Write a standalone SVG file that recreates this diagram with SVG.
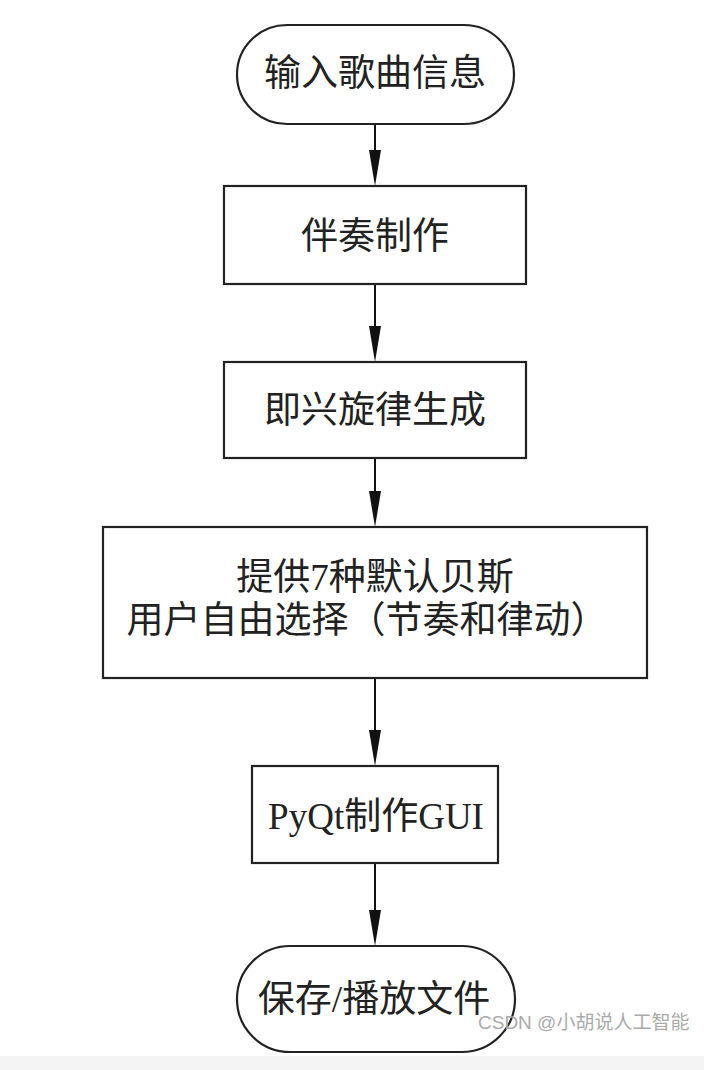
<svg xmlns="http://www.w3.org/2000/svg" width="704" height="1070" viewBox="0 0 704 1070">
<defs>
<style>
.shape{fill:#fff;stroke:#222;stroke-width:2.2}
.t{font-family:"Liberation Serif","Noto Sans CJK SC",serif;font-size:37px;fill:#222;text-anchor:middle;dominant-baseline:central}
.c{stroke:#111;stroke-width:2;fill:none}
.ah{fill:#111}
.wm{font-family:"Liberation Sans","Noto Sans CJK SC",sans-serif;font-size:19px;fill:#aaa}
</style>
</defs>
<rect width="704" height="1070" fill="#fff"/>
<rect x="0" y="1056" width="704" height="14" fill="#f4f4f4"/>
<g id="connectors">
<line class="c" x1="375" y1="124" x2="375" y2="150"/>
<path class="ah" d="M369,150 L381,150 L375,186 Z"/>
<line class="c" x1="375" y1="284" x2="375" y2="326"/>
<path class="ah" d="M369,326 L381,326 L375,362 Z"/>
<line class="c" x1="375" y1="458" x2="375" y2="491"/>
<path class="ah" d="M369,491 L381,491 L375,527 Z"/>
<line class="c" x1="375" y1="678" x2="375" y2="730"/>
<path class="ah" d="M369,730 L381,730 L375,766 Z"/>
<line class="c" x1="375" y1="863" x2="375" y2="910"/>
<path class="ah" d="M369,910 L381,910 L375,946 Z"/>
</g>
<g id="n1">
<rect class="shape" x="237" y="25" width="277" height="99" rx="50" ry="50"/>
<text class="t" x="375" y="73">输入歌曲信息</text>
</g>
<g id="n2">
<rect class="shape" x="224" y="186" width="302" height="98"/>
<text class="t" x="375" y="236">伴奏制作</text>
</g>
<g id="n3">
<rect class="shape" x="224" y="362" width="302" height="96"/>
<text class="t" x="375" y="410">即兴旋律生成</text>
</g>
<g id="n4">
<rect class="shape" x="103" y="527" width="544" height="151"/>
<text class="t" x="375" y="577">提供7种默认贝斯</text>
<text class="t" x="367" y="620">用户自由选择（节奏和律动）</text>
</g>
<g id="n5">
<rect class="shape" x="252" y="766" width="246" height="97"/>
<text class="t" x="376" y="816">PyQt制作GUI</text>
</g>
<g id="n6">
<rect class="shape" x="237" y="946" width="278" height="106" rx="53" ry="53"/>
<text class="t" x="374" y="999">保存/播放文件</text>
</g>
<text class="wm" x="478" y="1029">CSDN @小胡说人工智能</text>
</svg>
